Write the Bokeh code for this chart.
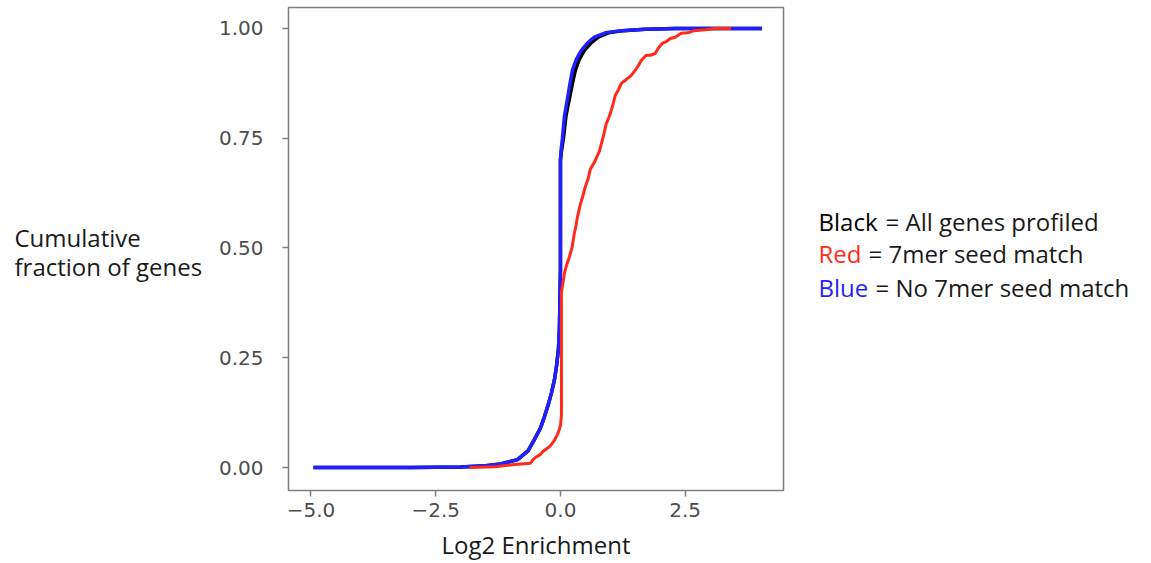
from bokeh.plotting import figure
from bokeh.models import Range1d, FixedTicker, CustomJSTickFormatter, Label
from bokeh.layouts import row
from bokeh.embed import file_html
from bokeh.resources import INLINE

# ---- data ----
blue_x = [-4.95, -3.0, -2.0, -1.5, -1.2, -0.86, -0.65, -0.52, -0.40, -0.32, -0.24, -0.18,
          -0.12, -0.08, -0.04, -0.02, 0.0, 0.0, 0.01, 0.04, 0.08, 0.14, 0.20, 0.24, 0.32,
          0.42, 0.55, 0.68, 0.90, 1.22, 1.70, 2.30, 3.00, 4.04]
blue_y = [0.0, 0.0, 0.001, 0.004, 0.008, 0.018, 0.038, 0.064, 0.09, 0.116, 0.145, 0.17,
          0.20, 0.23, 0.27, 0.32, 0.45, 0.70, 0.72, 0.75, 0.80, 0.84, 0.88, 0.905, 0.93,
          0.95, 0.968, 0.98, 0.99, 0.995, 0.998, 1.0, 1.0, 1.0]

black_x = [-4.95, -3.0, -2.0, -1.5, -1.2, -0.86, -0.65, -0.52, -0.40, -0.32, -0.24, -0.18,
           -0.12, -0.08, -0.04, -0.02, 0.0, 0.0, 0.02, 0.06, 0.11, 0.18, 0.25, 0.30, 0.38,
           0.48, 0.62, 0.76, 0.96, 1.26, 1.70, 2.30, 3.00, 4.04]
black_y = blue_y

red_x = [-1.82, -1.3, -0.92, -0.60, -0.55, -0.50, -0.40, -0.36, -0.25, -0.20, -0.12, -0.06,
         -0.02, 0.0, 0.02, 0.02, 0.05, 0.08, 0.12, 0.18, 0.23, 0.28, 0.31, 0.34, 0.40, 0.44,
         0.50, 0.56, 0.60, 0.68, 0.72, 0.78, 0.85, 0.92, 0.98, 1.02, 1.06, 1.10, 1.16, 1.22,
         1.30, 1.42, 1.50, 1.56, 1.62, 1.72, 1.80, 1.90, 1.96, 2.04, 2.12, 2.20, 2.30, 2.42,
         2.55, 2.68, 2.90, 3.10, 3.42]
red_y = [0.0, 0.002, 0.007, 0.010, 0.018, 0.023, 0.030, 0.036, 0.045, 0.050, 0.062, 0.075,
         0.088, 0.095, 0.12, 0.40, 0.42, 0.443, 0.46, 0.48, 0.50, 0.534, 0.55, 0.57, 0.60, 0.615,
         0.64, 0.66, 0.68, 0.695, 0.705, 0.72, 0.75, 0.784, 0.80, 0.814, 0.83, 0.848, 0.86, 0.875,
         0.882, 0.893, 0.905, 0.915, 0.927, 0.939, 0.939, 0.943, 0.955, 0.966, 0.97, 0.977, 0.98, 0.989,
         0.99, 0.995, 0.997, 1.0, 1.0]

x_ticks = [-5.0, -2.5, 0.0, 2.5]
y_ticks = [0.0, 0.25, 0.5, 0.75, 1.0]

x_label = "Log2 Enrichment"
y_label_lines = ["Cumulative", "fraction of genes"]
legend_words = ["Black", "Red", "Blue"]
legend_word_colors = ["#000000", "#ff2a1a", "#1f1fff"]
legend_rest = ["= All genes profiled", "= 7mer seed match", "= No 7mer seed match"]

FONT = "Open Sans"
FS = "24px"
TXT = "#1a1a1a"
TOP, BOTTOM = 7, 72
H = 563


def side_panel(width, x0):
    f = figure(width=width, height=H, output_backend="svg", toolbar_location=None,
               x_range=Range1d(x0, x0 + width), y_range=Range1d(H - BOTTOM, TOP),
               x_axis_type=None, y_axis_type=None,
               min_border_left=0, min_border_right=0,
               min_border_top=TOP, min_border_bottom=BOTTOM)
    f.outline_line_color = None
    f.grid.visible = False
    return f


# ---- left panel: y label text ----
left = side_panel(215, 0)
for i, t in enumerate(y_label_lines):
    left.add_layout(Label(x=14, y=237 + 30 * i, text=t, text_font=FONT, text_font_size=FS,
                          text_color=TXT, text_baseline="alphabetic"))

# ---- main plot ----
p = figure(width=585, height=H, output_backend="svg", toolbar_location=None,
           x_range=Range1d(-5.45, 4.47), y_range=Range1d(-0.0523, 1.0477),
           min_border_left=72, min_border_right=17, min_border_top=TOP, min_border_bottom=BOTTOM)
p.background_fill_color = "white"
p.border_fill_color = "white"
p.outline_line_color = "#7f7f7f"
p.outline_line_width = 1.5
p.grid.visible = False

for ax in (p.xaxis, p.yaxis):
    ax.axis_line_color = None
    ax.major_tick_line_color = "#7f7f7f"
    ax.major_tick_line_width = 1.5
    ax.major_tick_out = 6
    ax.major_tick_in = 0
    ax.minor_tick_line_color = None
    ax.major_label_text_font = "DejaVu Sans"
    ax.major_label_text_font_size = "20px"
    ax.major_label_text_color = "#4d4d4d"

p.xaxis.ticker = FixedTicker(ticks=x_ticks)
p.yaxis.ticker = FixedTicker(ticks=y_ticks)
p.xaxis.formatter = CustomJSTickFormatter(code="return tick.toFixed(1).replace('-', '\u2212');")
p.yaxis.formatter = CustomJSTickFormatter(code="return tick.toFixed(2);")
p.xaxis.major_label_standoff = 6
p.yaxis.major_label_standoff = 19

p.xaxis.axis_label = x_label
p.xaxis.axis_label_text_font = FONT
p.xaxis.axis_label_text_font_size = FS
p.xaxis.axis_label_text_font_style = "normal"
p.xaxis.axis_label_text_color = TXT
p.xaxis.axis_label_standoff = 8

p.line(black_x, black_y, line_color="black", line_width=3.5)
p.line(blue_x, blue_y, line_color="#1f1fff", line_width=3.5)
p.line(red_x, red_y, line_color="#ff2a1a", line_width=3)

# ---- right panel: legend text ----
right = side_panel(351, 800)
eq_x = [885, 868, 875]
base_y = [221, 254, 288]
for i in range(3):
    right.add_layout(Label(x=818, y=base_y[i], text=legend_words[i], text_font=FONT, text_font_size=FS,
                           text_color=legend_word_colors[i], text_baseline="alphabetic"))
    right.add_layout(Label(x=eq_x[i], y=base_y[i], text=legend_rest[i], text_font=FONT, text_font_size=FS,
                           text_color=TXT, text_baseline="alphabetic"))

layout = row(left, p, right, spacing=0)
open("out.html", "w").write(file_html(layout, INLINE))
